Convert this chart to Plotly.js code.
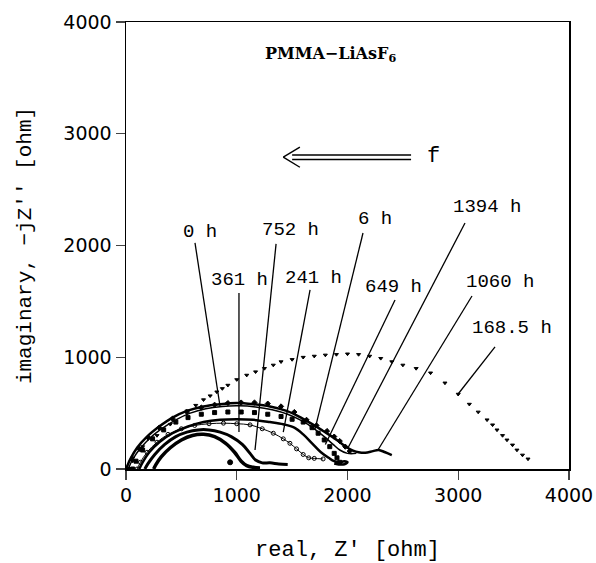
<!DOCTYPE html>
<html>
<head>
<meta charset="utf-8">
<script src="https://cdn.plot.ly/plotly-3.0.1.min.js"></script>
<style>html,body{margin:0;padding:0;background:#fff}#chart{width:596px;height:563px}</style>
</head>
<body>
<div id="chart"></div>
<script>
// ---- data (ohm) ----
const c0h_x = [250,270,320,400,500,600,700,800,900,980,1040,1090,1150,1210];
const c0h_y = [0,40,110,190,260,300,310,290,230,150,70,30,15,10];

const c361_x = [170,200,260,350,450,550,650,750,850,950,1050,1120,1170,1230,1300,1380,1460];
const c361_y = [0,50,130,220,290,330,350,350,330,290,220,140,80,55,55,45,40];

const c752_x = [100,130,190,280,380,500,620,750,880,1000,1120,1230,1330,1420,1480,1540,1600,1650,1700,1780];
const c752_y = [0,60,150,240,310,360,390,405,410,405,395,360,320,270,230,180,130,100,95,90];

const c241_x = [60,90,150,240,340,450,560,680,800,920,1040,1160,1280,1400,1500,1600,1680,1735,1790,1840,1880,1905,1930];
const c241_y = [0,70,170,270,350,420,460,490,505,510,510,505,490,470,445,420,370,320,260,200,140,100,60];

const c6_x = [30,60,120,200,300,420,550,680,800,920,1040,1160,1280,1400,1520,1630,1720,1815,1880,1930,1980,2020];
const c6_y = [0,80,180,280,370,450,510,550,575,590,595,595,585,560,510,440,390,340,290,250,200,160];

const c649_x = [120,150,210,300,420,560,700,850,1000,1150,1300,1420,1520,1600,1680,1760,1830,1880,1930,1970,2000,1960,1880];
const c649_y = [0,60,150,240,320,380,420,440,445,440,420,400,370,310,230,150,100,70,60,70,60,40,50];

const c1394_x = [0,40,100,190,300,420,550,700,850,1000,1150,1300,1450,1580,1700,1780,1860,1930,2000,2050,2100,2160,2230,2280,2340,2400];
const c1394_y = [0,90,190,290,380,460,520,560,580,590,580,560,520,460,390,340,290,240,190,165,150,145,160,170,150,125];

const c1060_x = [20,60,130,220,330,450,580,720,870,1020,1170,1320,1460,1590,1700,1790,1870,1930,2000,2080];
const c1060_y = [0,85,185,280,365,440,500,540,560,565,555,530,490,430,360,290,220,170,140,140];

const c168_x = [0,60,150,280,400,550,630,700,760,820,870,920,1000,1090,1170,1250,1330,1400,1500,1600,1700,1800,1900,2000,2100,2200,2300,2400,2500,2620,2750,2880,3000,3100,3180,3260,3310,3350,3400,3440,3490,3530,3580,3630];
const c168_y = [0,100,200,300,400,520,570,620,655,690,720,750,800,840,870,900,930,960,980,1000,1010,1020,1025,1030,1025,1010,990,960,930,900,860,770,670,580,510,440,395,350,300,260,215,170,125,90];

// isolated stray point
const strayX = [940];
const strayY = [60];

// labels and leader lines
const labelText = ["0 h","752 h","6 h","1394 h","361 h","241 h","649 h","1060 h","168.5 h"];
const labelX    = [668,1481,2248,3260,1029,1689,2411,3377,3486];
const labelY    = [2121,2139,2238,2345,1692,1709,1629,1674,1262];
const leadX0    = [623,1355,2140,3061,1020,1662,2429,3124,3332];
const leadY0    = [2023,2014,2112,2202,1575,1602,1513,1548,1092];
const leadX1    = [850,1165,1705,2005,1020,1420,1800,2275,2990];
const leadY1    = [555,170,350,190,330,330,220,170,660];

const xTicks = [0,1000,2000,3000,4000];
const yTicks = [0,1000,2000,3000,4000];

// ---- traces ----
const solid = (x,y,name,w)=>({x,y,name,type:'scatter',mode:'lines',line:{color:'#000',width:w,shape:'spline'},hoverinfo:'skip'});
const dotted = (x,y,name,sym,sz)=>({x,y,name,type:'scatter',mode:'markers',marker:{color:'#000',size:sz,symbol:sym,line:{color:'#000',width:1}},hoverinfo:'skip'});

const traces = [
  solid(c0h_x,c0h_y,'0 h',3.5),
  solid(c361_x,c361_y,'361 h',3),
  {x:c752_x,y:c752_y,name:'752 h',type:'scatter',mode:'lines+markers',line:{color:'#000',width:1,shape:'spline'},marker:{color:'#000',size:4,symbol:'circle-open',line:{color:'#000',width:1}},hoverinfo:'skip'},
  dotted(c241_x,c241_y,'241 h','square',4),
  dotted(c6_x,c6_y,'6 h','diamond',4),
  solid(c649_x,c649_y,'649 h',2.5),
  solid(c1394_x,c1394_y,'1394 h',2.5),
  solid(c1060_x,c1060_y,'1060 h',1.5),
  dotted(c168_x,c168_y,'168.5 h','triangle-down',3.5),
  dotted(strayX,strayY,'stray','circle',5)
];

// ---- annotations / shapes ----
const mono = 'Liberation Mono, Courier New, monospace';
const serif = 'DejaVu Serif, Liberation Serif, serif';
const annotations = labelText.map((t,i)=>({x:labelX[i],y:labelY[i],xref:'x',yref:'y',text:t,showarrow:false,font:{family:mono,size:19,color:'#000'}}));
annotations.push({x:1842,y:3705,xref:'x',yref:'y',text:'<b>PMMA−LiAsF<sub>6</sub></b>',showarrow:false,font:{family:serif,size:16,color:'#000'}});
annotations.push({x:2772,y:2795,xref:'x',yref:'y',text:'f',showarrow:false,font:{family:mono,size:22,color:'#000'}});

const shapes = labelText.map((t,i)=>({type:'line',xref:'x',yref:'y',x0:leadX0[i],y0:leadY0[i],x1:leadX1[i],y1:leadY1[i],line:{color:'#000',width:1.3}}));
// double arrow "<=" pointing to low frequency side
const arrowX = [1420,2574];
const arrowY = [2770,2810];
shapes.push({type:'line',xref:'x',yref:'y',x0:arrowX[0]+80,y0:arrowY[1],x1:arrowX[1],y1:arrowY[1],line:{color:'#000',width:1.4}});
shapes.push({type:'line',xref:'x',yref:'y',x0:arrowX[0]+80,y0:arrowY[0],x1:arrowX[1],y1:arrowY[0],line:{color:'#000',width:1.4}});
shapes.push({type:'line',xref:'x',yref:'y',x0:arrowX[0],y0:(arrowY[0]+arrowY[1])/2,x1:arrowX[0]+150,y1:arrowY[1]+70,line:{color:'#000',width:1.4}});
shapes.push({type:'line',xref:'x',yref:'y',x0:arrowX[0],y0:(arrowY[0]+arrowY[1])/2,x1:arrowX[0]+150,y1:arrowY[0]-70,line:{color:'#000',width:1.4}});

const sans = 'DejaVu Sans, Liberation Sans, sans-serif';
const layout = {
  width:596,height:563,
  margin:{l:126,r:27,t:22,b:94},
  paper_bgcolor:'#fff',plot_bgcolor:'#fff',
  showlegend:false,
  xaxis:{range:[0,4000],tickvals:xTicks,ticktext:xTicks.map(String),ticks:'outside',ticklen:9,tickwidth:1.3,
         showline:true,linecolor:'#000',linewidth:1.5,mirror:true,showgrid:false,zeroline:false,
         tickfont:{family:sans,size:19,color:'#000'},
         title:{text:"real, Z' [ohm]",font:{family:mono,size:22,color:'#000'},standoff:36}},
  yaxis:{range:[0,4000],tickvals:yTicks,ticktext:yTicks.map(String),ticks:'outside',ticklen:9,tickwidth:1.3,
         showline:true,linecolor:'#000',linewidth:1.5,mirror:true,showgrid:false,zeroline:false,
         tickfont:{family:sans,size:19,color:'#000'},
         title:{text:"imaginary, −jZ'' [ohm]",font:{family:mono,size:21,color:'#000'},standoff:26}},
  annotations,shapes
};
Plotly.newPlot('chart',traces,layout,{staticPlot:true,displayModeBar:false});
</script>
</body>
</html>
